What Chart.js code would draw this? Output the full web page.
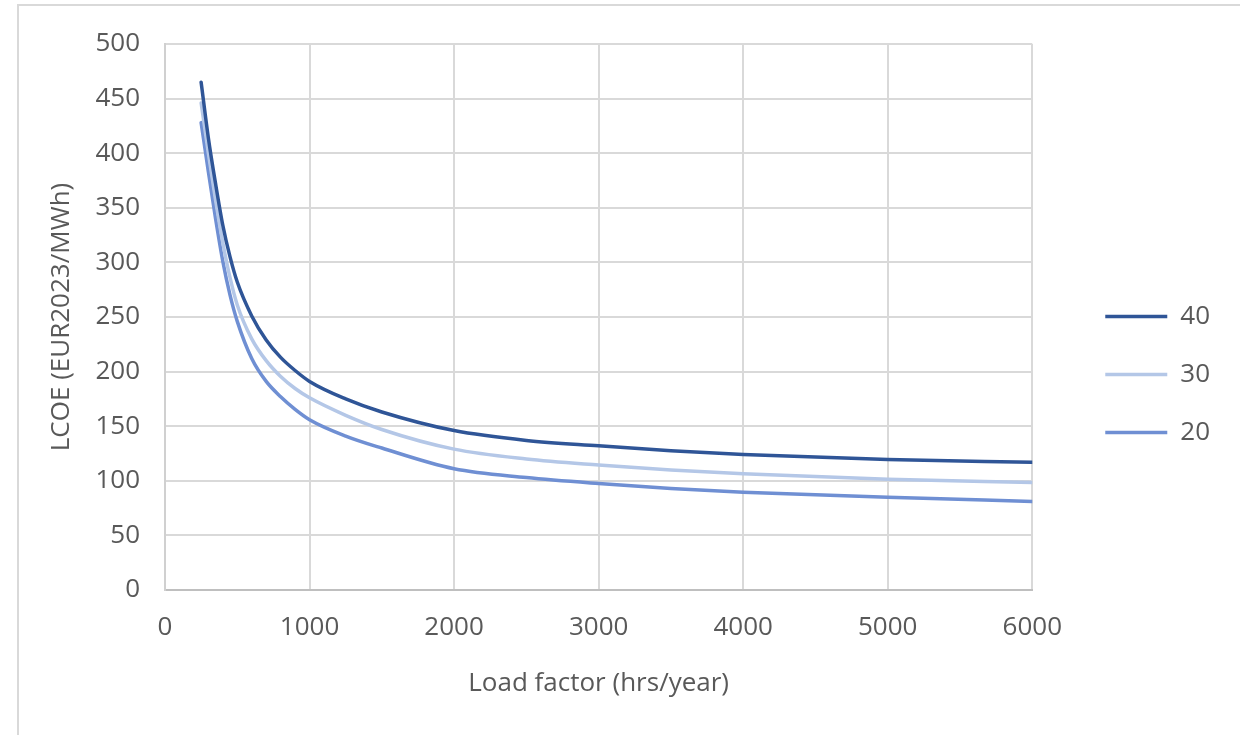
<!DOCTYPE html>
<html>
<head>
<meta charset="utf-8">
<script src="https://cdn.jsdelivr.net/npm/chart.js@4.4.1/dist/chart.umd.min.js"></script>
<style>
  body { margin: 0; background: #fff; }
  #wrap { position: relative; width: 1240px; height: 735px; }
  #frame { position: absolute; left: 17px; top: 4px; right: 0; bottom: 0; border-top: 2px solid #d9d9d9; border-left: 2px solid #d9d9d9; }
  #chart { position: absolute; left: 0; top: 0; }
</style>
</head>
<body>
<div id="wrap">
  <div id="frame"></div>
  <canvas id="chart" width="1240" height="735"></canvas>
</div>
<script>
// load factor (hrs/year)
var loadFactor = [250, 300, 350, 400, 450, 500, 600, 700, 800, 900, 1000, 1250, 1500, 2000, 2500, 3000, 3500, 4000, 5000, 6000];
// LCOE per series (EUR2023/MWh)
var lcoe40 = [465, 414, 372, 334, 305, 282, 251, 229, 213, 201, 191, 175, 163, 146, 137, 132, 127.5, 124, 119.5, 117];
var lcoe30 = [446, 400, 357, 318, 286, 261, 230, 210, 195.5, 184.5, 176, 160, 147, 129, 120, 114.5, 110, 106.5, 101.5, 98.5];
var lcoe20 = [428, 383, 340, 301, 270, 246, 212, 191, 177, 165.5, 156, 141, 130, 111, 103, 97.5, 93, 89.5, 85, 81];
var seriesNames = ['40', '30', '20'];
var seriesColors = ['#2f5597', '#b4c7e7', '#6f8fd3'];

function toPoints(values) {
  return values.map(function(v, i) { return { x: loadFactor[i], y: v }; });
}

var textColor = '#595959';
var fontFamily = '"Open Sans", "Noto Sans", sans-serif';

var datasets = [lcoe40, lcoe30, lcoe20].map(function(values, i) {
  return {
    label: seriesNames[i],
    data: toPoints(values),
    borderColor: seriesColors[i],
    backgroundColor: seriesColors[i],
    borderWidth: 3.5,
    borderCapStyle: 'round',
    pointRadius: 0,
    pointStyle: 'line',
    cubicInterpolationMode: 'monotone',
    fill: false
  };
});

var ctx = document.getElementById('chart').getContext('2d');
var chart = new Chart(ctx, {
  type: 'line',
  data: { datasets: datasets },
  options: {
    responsive: false,
    animation: false,
    layout: { padding: { top: 44, bottom: 30, right: 20, left: 0 } },
    plugins: {
      tooltip: { enabled: false },
      legend: {
        position: 'right',
        align: 'center',
        labels: {
          usePointStyle: true,
          pointStyle: 'line',
          pointStyleWidth: 62,
          padding: 32,
          color: textColor,
          font: { family: fontFamily, size: 26 }
        }
      }
    },
    scales: {
      x: {
        type: 'linear',
        min: 0,
        max: 6000,
        ticks: {
          stepSize: 1000,
          color: textColor,
          padding: 22,
          font: { family: fontFamily, size: 26 },
          callback: function(value) { return String(value); }
        },
        grid: { color: '#d9d9d9', lineWidth: 2, drawTicks: false },
        border: { color: '#bfbfbf', width: 2 },
        title: {
          display: true,
          text: 'Load factor (hrs/year)',
          color: textColor,
          font: { family: fontFamily, size: 26 },
          padding: { top: 6, bottom: 6 }
        },
        afterFit: function(scale) { scale.height = 115; }
      },
      y: {
        min: 0,
        max: 500,
        ticks: { stepSize: 50, color: textColor, padding: 25, font: { family: fontFamily, size: 26 } },
        grid: { color: '#d9d9d9', lineWidth: 2, drawTicks: false },
        border: { color: '#d0d0d0', width: 2 },
        title: {
          display: true,
          text: 'LCOE (EUR2023/MWh)',
          color: textColor,
          font: { family: fontFamily, size: 26 },
          padding: 46
        },
        afterFit: function(scale) { scale.width = 165; }
      },
      gap: {
        position: 'right',
        display: true,
        ticks: { display: false },
        grid: { display: false },
        border: { display: false },
        afterFit: function(scale) { scale.width = 41; }
      }
    }
  }
});
</script>
</body>
</html>
